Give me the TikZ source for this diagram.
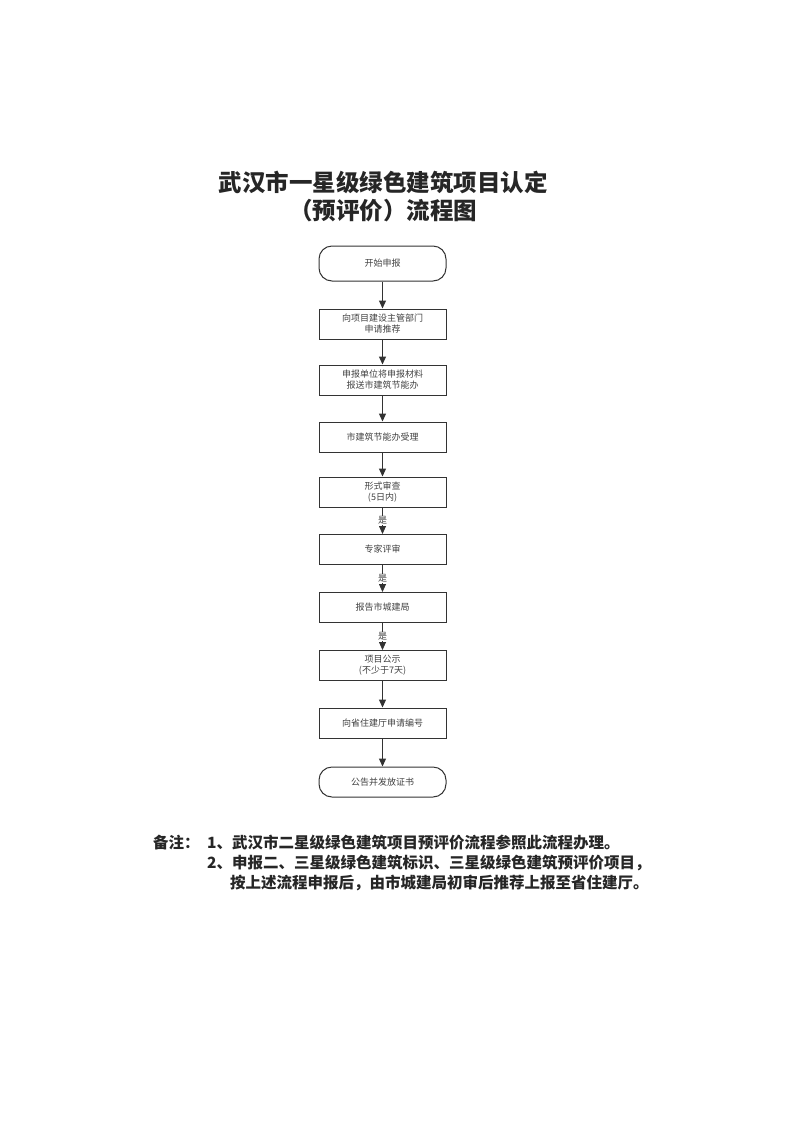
\documentclass[tikz,border=0pt]{standalone}
\usepackage{fontspec}
\newfontfamily\cjk{Noto Sans CJK SC}
\usetikzlibrary{arrows.meta}
\begin{document}
\begin{tikzpicture}[x=1pt,y=-1pt,
 box/.style={draw=black!80,line width=1pt,minimum width=127pt,minimum height=30pt,align=center,font=\cjk\fontsize{9}{11}\selectfont,text=black!75,inner sep=1pt},
 term/.style={box,rounded corners=13pt,minimum height=35pt},
 arr/.style={-{Triangle[length=8pt,width=7pt]},line width=1.3pt,draw=black!80},
 yes/.style={font=\cjk\fontsize{9}{10}\selectfont,fill=white,inner sep=0.5pt,text=black!75}]
\useasboundingbox (0,0) rectangle (793,1122);
\node[font=\cjk\bfseries\fontsize{23.5}{26}\selectfont,text=black!85] (t1) at (383,182) {武汉市一星级绿色建筑项目认定};
\node[font=\cjk\bfseries\fontsize{23.5}{26}\selectfont,text=black!85] (t2) at (383,211) {（预评价）流程图};
\node[term] (n1) at (382.5,263.5) {开始申报};
\node[box] (n2) at (382.5,324) {向项目建设主管部门\\申请推荐};
\node[box] (n3) at (382.5,380) {申报单位将申报材料\\报送市建筑节能办};
\node[box] (n4) at (382.5,437) {市建筑节能办受理};
\node[box] (n5) at (382.5,492) {形式审查\\(5日内)};
\node[box] (n6) at (382.5,549.5) {专家评审};
\node[box] (n7) at (382.5,607.5) {报告市城建局};
\node[box] (n8) at (382.5,665.5) {项目公示\\(不少于7天)};
\node[box] (n9) at (382.5,723) {向省住建厅申请编号};
\node[term,minimum height=30pt] (n10) at (382.5,782) {公告并发放证书};
\draw[arr] (n1) -- (n2);
\draw[arr] (n2) -- (n3);
\draw[arr] (n3) -- (n4);
\draw[arr] (n4) -- (n5);
\draw[arr,line width=0.8pt] (n5) -- node[yes] {是} (n6);
\draw[arr,line width=0.8pt] (n6) -- node[yes] {是} (n7);
\draw[arr,line width=0.8pt] (n7) -- node[yes] {是} (n8);
\draw[arr] (n8) -- (n9);
\draw[arr] (n9) -- (n10);
\begin{scope}[every node/.style={font=\cjk\bfseries\fontsize{15.5}{17}\selectfont,text=black!85,anchor=west,inner sep=0}]
\node (b0) at (153,843) {备注：};
\node (b1) at (207,843) {1、武汉市二星级绿色建筑项目预评价流程参照此流程办理。};
\node (b2) at (207,863) {2、申报二、三星级绿色建筑标识、三星级绿色建筑预评价项目，};
\node (b3) at (230,883) {按上述流程申报后，由市城建局初审后推荐上报至省住建厅。};
\end{scope}
\end{tikzpicture}
\end{document}
